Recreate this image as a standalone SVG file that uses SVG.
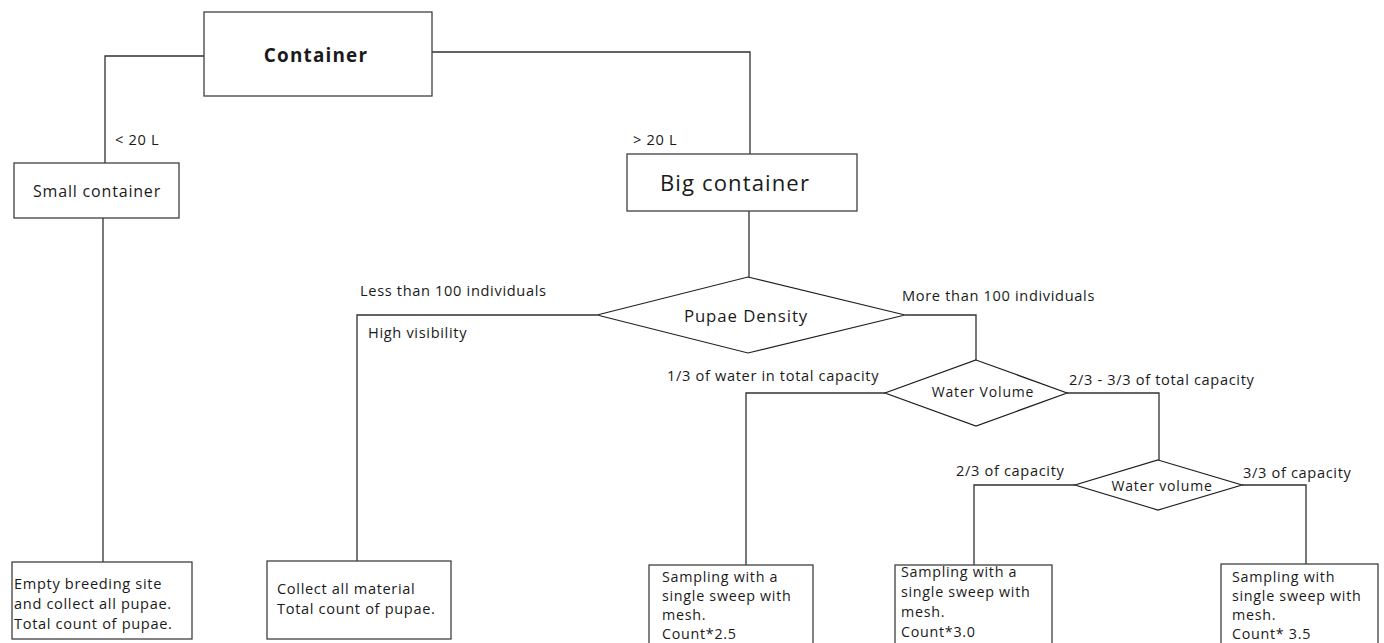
<svg xmlns="http://www.w3.org/2000/svg" width="1384" height="643" viewBox="0 0 1384 643">
<style>
.box{fill:#fff;stroke:#404040;stroke-width:1.3}
.dia{fill:#fff;stroke:#202020;stroke-width:1.2}
.ln{fill:none;stroke:#303030;stroke-width:1.3}
text{font-family:"Open Sans","Liberation Sans",sans-serif;fill:#1a1a1a}
.s{font-size:14.6px;letter-spacing:0.66px}
.t{font-size:14.3px;letter-spacing:0.72px}
</style>
<rect width="1384" height="643" fill="#fff"/>
<g id="connectors">
<path class="ln" d="M204,56 H105 V163"/>
<path class="ln" d="M432,52 H750 V154"/>
<path class="ln" d="M103,218 V562"/>
<path class="ln" d="M749,211 V277"/>
<path class="ln" d="M597,315 H357 V561"/>
<path class="ln" d="M905,315 H976 V360"/>
<path class="ln" d="M885,393 H746 V565"/>
<path class="ln" d="M1067,393 H1159 V460"/>
<path class="ln" d="M1075,485 H974 V565"/>
<path class="ln" d="M1242,485 H1306 V564"/>
<text class="s" x="115" y="145">&lt; 20 L</text>
<text class="s" x="633" y="145">&gt; 20 L</text>
<text class="s" x="360" y="296">Less than 100 individuals</text>
<text class="s" x="368" y="338">High visibility</text>
<text class="s" x="902" y="301">More than 100 individuals</text>
<text class="s" x="667" y="381">1/3 of water in total capacity</text>
<text class="s" x="1069" y="385">2/3 - 3/3 of total capacity</text>
<text class="s" x="956" y="476">2/3 of capacity</text>
<text class="s" x="1243" y="478">3/3 of capacity</text>
</g>
<g id="container">
<rect class="box" x="204" y="12" width="228" height="84"/>
<text x="316" y="62" text-anchor="middle" font-size="18.9" font-weight="bold" letter-spacing="1.2">Container</text>
</g>
<g id="small">
<rect class="box" x="14" y="163" width="165" height="55"/>
<text x="97" y="197" text-anchor="middle" font-size="16" letter-spacing="0.82">Small container</text>
</g>
<g id="big">
<rect class="box" x="627" y="154" width="230" height="57"/>
<text x="735" y="191" text-anchor="middle" font-size="22.1" letter-spacing="1.1">Big container</text>
</g>
<g id="pupae">
<polygon class="dia" points="748,277 905,315 748,353 597,315"/>
<text x="746" y="322" text-anchor="middle" font-size="16.8" letter-spacing="0.92">Pupae Density</text>
</g>
<g id="wv1">
<polygon class="dia" points="976,360 1067,393 976,426 885,393"/>
<text x="983" y="397" text-anchor="middle" font-size="14" letter-spacing="0.83">Water Volume</text>
</g>
<g id="wv2">
<polygon class="dia" points="1158,460 1242,485 1158,510 1075,485"/>
<text x="1162" y="491" text-anchor="middle" font-size="14" letter-spacing="0.83">Water volume</text>
</g>
<g id="b1">
<rect class="box" x="12" y="562" width="180" height="77"/>
<text class="s" x="14" y="589">Empty breeding site</text>
<text class="s" x="14" y="609">and collect all pupae.</text>
<text class="s" x="14" y="629">Total count of pupae.</text>
</g>
<g id="b2">
<rect class="box" x="267" y="561" width="184" height="78"/>
<text class="s" x="277" y="594">Collect all material</text>
<text class="s" x="277" y="614">Total count of pupae.</text>
</g>
<g id="b3">
<rect class="box" x="649" y="565" width="164" height="90"/>
<text class="t" x="662" y="582">Sampling with a</text>
<text class="t" x="662" y="601">single sweep with</text>
<text class="t" x="662" y="620">mesh.</text>
<text class="t" x="662" y="639">Count*2.5</text>
</g>
<g id="b4">
<rect class="box" x="895" y="565" width="157" height="90"/>
<text class="t" x="901" y="577">Sampling with a</text>
<text class="t" x="901" y="597">single sweep with</text>
<text class="t" x="901" y="617">mesh.</text>
<text class="t" x="901" y="637">Count*3.0</text>
</g>
<g id="b5">
<rect class="box" x="1221" y="564" width="157" height="90"/>
<text class="t" x="1232" y="582">Sampling with</text>
<text class="t" x="1232" y="601">single sweep with</text>
<text class="t" x="1232" y="620">mesh.</text>
<text class="t" x="1232" y="639">Count* 3.5</text>
</g>
</svg>
